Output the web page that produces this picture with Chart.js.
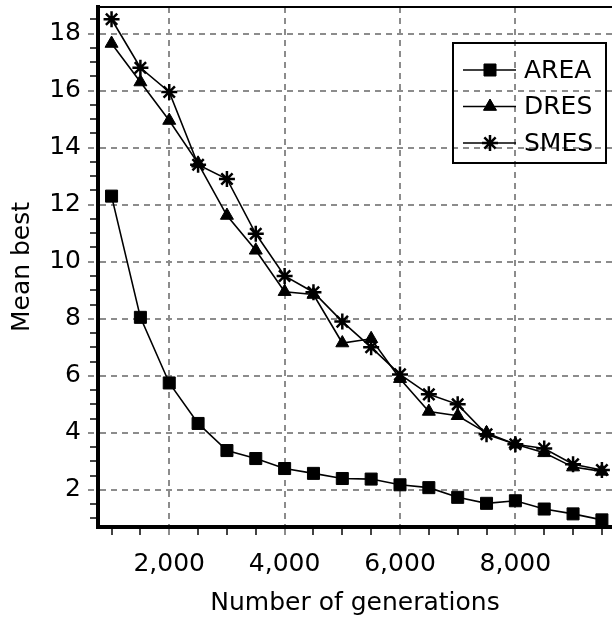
<!DOCTYPE html>
<html>
<head>
<meta charset="utf-8">
<script src="https://cdn.jsdelivr.net/npm/chart.js@4/dist/chart.umd.min.js"></script>
<style>
  html, body { margin: 0; padding: 0; background: #fff; }
  #wrap { width: 612px; height: 620px; position: relative; }
</style>
</head>
<body>
<div id="wrap"><canvas id="c"></canvas></div>
<script>
const generations = [1000, 1500, 2000, 2500, 3000, 3500, 4000, 4500, 5000, 5500, 6000, 6500, 7000, 7500, 8000, 8500, 9000, 9500];
const area = [12.3, 8.05, 5.75, 4.33, 3.38, 3.1, 2.75, 2.58, 2.4, 2.38, 2.18, 2.08, 1.74, 1.53, 1.62, 1.33, 1.16, 0.95];
const dres = [17.65, 16.3, 14.95, 13.45, 11.62, 10.4, 8.95, 8.85, 7.15, 7.3, 5.9, 4.75, 4.6, 4.0, 3.6, 3.3, 2.8, 2.65];
const smes = [18.5, 16.8, 15.95, 13.4, 12.9, 10.98, 9.5, 8.93, 7.9, 7.0, 6.05, 5.35, 5.0, 3.95, 3.6, 3.45, 2.9, 2.7];

const xTicks = [2000, 4000, 6000, 8000];
const yTicks = [2, 4, 6, 8, 10, 12, 14, 16, 18];
const xMinorStep = 500;
const yMinorStep = 0.5;

const FONT = { family: 'DejaVu Sans', size: 25 };
const GRID = '#8c8c8c';

function pts(ys) {
  return generations.map((g, i) => ({ x: g, y: ys[i] }));
}

function series(label, ys, style, radius) {
  return {
    label: label,
    data: pts(ys),
    borderColor: '#000',
    backgroundColor: '#000',
    borderWidth: 1.6,
    pointStyle: style,
    pointRadius: radius,
    pointBorderWidth: style === 'star' ? 2.5 : 1,
    pointBackgroundColor: '#000',
    pointBorderColor: '#000',
    tension: 0
  };
}

// legend drawn inside the plot, transparent box, plus the top frame line
const boxLegend = {
  id: 'boxLegend',
  afterDraw(chart) {
    const ctx = chart.ctx;
    const left = 453, top = 43, w = 153, h = 120;
    ctx.save();
    ctx.strokeStyle = '#000';
    ctx.lineWidth = 2;
    ctx.strokeRect(left, top, w, h);
    ctx.font = '25px "DejaVu Sans"';
    ctx.textBaseline = 'middle';
    ctx.fillStyle = '#000';
    chart.data.datasets.forEach((ds, i) => {
      const y = 70 + i * 36.5;
      ctx.beginPath();
      ctx.lineWidth = 1.6;
      ctx.moveTo(463, y);
      ctx.lineTo(516, y);
      ctx.stroke();
      ctx.lineWidth = ds.pointBorderWidth;
      Chart.helpers.drawPoint(ctx, { pointStyle: ds.pointStyle, radius: ds.pointRadius, rotation: 0, borderWidth: ds.pointBorderWidth }, 490, y);
      ctx.fill();
      ctx.fillText(ds.label, 524, y + 1);
    });
    const a = chart.chartArea;
    ctx.beginPath();
    ctx.lineWidth = 2;
    ctx.moveTo(a.left, a.top);
    ctx.lineTo(a.right, a.top);
    ctx.stroke();
    ctx.restore();
  }
};

function minorTicks(min, max, step) {
  const out = [];
  for (let v = Math.ceil(min / step) * step; v <= max + 1e-9; v += step) out.push({ value: Math.round(v * 100) / 100 });
  return out;
}

const isMajor = (list, c) => c.tick && list.includes(c.tick.value);

new Chart(document.getElementById('c'), {
  type: 'line',
  data: {
    datasets: [
      series('AREA', area, 'rect', 8.5),
      series('DRES', dres, 'triangle', 7.5),
      series('SMES', smes, 'star', 8)
    ]
  },
  plugins: [boxLegend],
  options: {
    responsive: true,
    maintainAspectRatio: false,
    animation: false,
    layout: { autoPadding: false, padding: { top: 7, left: 0, right: 0, bottom: 0 } },
    plugins: { legend: { display: false }, tooltip: { enabled: false } },
    scales: {
      x: {
        type: 'linear',
        min: 765,
        max: 9675,
        afterBuildTicks(scale) { scale.ticks = minorTicks(scale.min, scale.max, xMinorStep); },
        afterFit(scale) { scale.height = 93; scale.paddingLeft = 0; scale.paddingRight = 0; },
        ticks: {
          autoSkip: false,
          maxRotation: 0,
          color: '#000',
          font: FONT,
          padding: 13,
          callback: v => xTicks.includes(v) ? v.toLocaleString('en-US') : ''
        },
        grid: {
          color: c => isMajor(xTicks, c) ? GRID : 'rgba(0,0,0,0)',
          tickColor: c => isMajor(xTicks, c) ? GRID : '#444',
          tickLength: 9,
          lineWidth: 2,
          tickWidth: 2,
          tickBorderDash: c => isMajor(xTicks, c) ? [6, 5] : [6, 100]
        },
        border: { color: '#000', width: 4, dash: [6, 5] },
        title: { display: true, text: 'Number of generations', color: '#000', font: FONT, padding: { top: 0, bottom: 2 } }
      },
      y: {
        type: 'linear',
        min: 0.7,
        max: 18.93,
        afterBuildTicks(scale) { scale.ticks = minorTicks(scale.min, scale.max, yMinorStep); },
        afterFit(scale) { scale.width = 98; scale.paddingTop = 0; scale.paddingBottom = 0; },
        ticks: {
          autoSkip: false,
          color: '#000',
          font: FONT,
          padding: 7,
          callback: v => yTicks.includes(v) ? String(v) : ''
        },
        grid: {
          color: c => isMajor(yTicks, c) ? GRID : 'rgba(0,0,0,0)',
          tickColor: c => isMajor(yTicks, c) ? GRID : '#444',
          tickLength: 10,
          lineWidth: 2,
          tickWidth: 2,
          tickBorderDash: c => isMajor(yTicks, c) ? [6, 5] : [0, 2, 6, 100]
        },
        border: { color: '#000', width: 4, dash: [6, 5] },
        title: { display: true, text: 'Mean best', color: '#000', font: FONT, padding: { top: 7, bottom: 0 } }
      }
    }
  }
});
</script>
</body>
</html>
